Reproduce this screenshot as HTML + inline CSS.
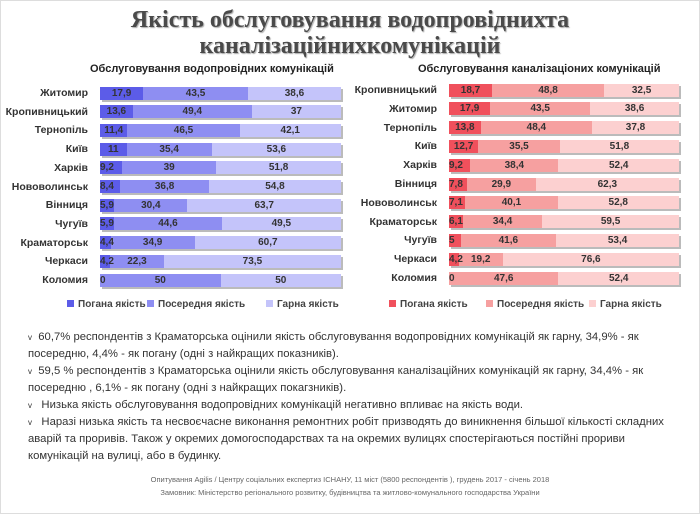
<!DOCTYPE html><html><head><meta charset="utf-8"><style>
body{margin:0;width:700px;height:514px;background:#fff;position:relative;overflow:hidden;font-family:"Liberation Sans","DejaVu Sans",sans-serif;}
.a{position:absolute;white-space:nowrap}
.t{font-family:"Liberation Serif",serif;font-weight:bold;font-size:24px;color:#4a4a4a;text-shadow:1px 1px 1px #aaa;width:700px;text-align:center;left:0}
.h{font-size:11px;font-weight:bold;color:#222}
.lb{font-size:10.5px;font-weight:bold;color:#333;text-align:right}
.bar{position:absolute;height:13px;display:flex;box-shadow:2px 2px 0 #bbb}
.bar div{height:13px;font-size:10px;font-weight:bold;color:#333;text-align:center;line-height:13px;white-space:nowrap;flex:none}
.bar div span{position:relative;z-index:2}
.bar div.s{text-align:left}
.b1{background:#5c5ce8}.b2{background:#8e8ef2}.b3{background:#c4c4fa}
.r1{background:#f0505c}.r2{background:#f6a0a0}.r3{background:#fcd0d0}
.lg{font-size:10px;font-weight:bold;color:#444}
.lg i{display:inline-block;width:7px;height:7px;margin-right:4px}
.tx{font-size:11.3px;color:#333;left:28px;line-height:17px}
.f{font-size:7.5px;color:#666;width:700px;text-align:center;left:0}
</style></head><body>
<div style="position:absolute;left:0;top:0;width:698px;height:512px;border:1px solid #ddd"></div>
<div class="a t" style="top:7px">Якість обслуговування водопровіднихта</div>
<div class="a t" style="top:33px">каналізаційнихкомунікацій</div>
<div class="a h" style="left:90px;top:63px">Обслуговування водопровідних комунікацій</div>
<div class="a h" style="left:418px;top:63px">Обслуговування каналізаціоних комунікацій</div>
<div id="L"></div><div id="R"></div>
<div class="a lg" style="left:67px;top:299px"><i style="background:#5c5ce8"></i>Погана якість</div>
<div class="a lg" style="left:147px;top:299px"><i style="background:#8e8ef2"></i>Посередня якість</div>
<div class="a lg" style="left:266px;top:299px"><i style="background:#c4c4fa"></i>Гарна якість</div>
<div class="a lg" style="left:389px;top:299px"><i style="background:#f0505c"></i>Погана якість</div>
<div class="a lg" style="left:486px;top:299px"><i style="background:#f6a0a0"></i>Посередня якість</div>
<div class="a lg" style="left:589px;top:299px"><i style="background:#fcd0d0"></i>Гарна якість</div>
<div class="a tx" style="top:329px;white-space:normal;width:650px"><span style="font-size:8px">v</span>&nbsp; 60,7% респондентів з Краматорська оцінили якість обслуговування водопровідних комунікацій як гарну, 34,9% - як посередню, 4,4% - як погану (одні з найкращих показників).<br><span style="font-size:8px">v</span>&nbsp; 59,5 % респондентів з Краматорська оцінили якість обслуговування каналізаційних комунікацій як гарну, 34,4% - як посередню , 6,1% - як погану (одні з найкращих покагзників).<br><span style="font-size:8px">v</span>&nbsp;&nbsp; Низька якість обслуговування водопровідних комунікацій негативно впливає на якість води.<br><span style="font-size:8px">v</span>&nbsp;&nbsp; Наразі низька якість та несвоєчасне виконання ремонтних робіт призводять до виникнення більшої кількості складних аварій та проривів. Також у окремих домогосподарствах та на окремих вулицях спостерігаються постійні прориви комунікацій на вулиці, або в будинку.</div>
<div class="a f" style="top:475px">Опитування Agilis / Центру соціальних експертиз ІСНАНУ, 11 міст (5800 респондентів ), грудень 2017 - січень 2018</div>
<div class="a f" style="top:488px">Замовник: Міністерство регіонального розвитку, будівництва та житлово-комунального господарства України</div>
<script>
function mk(id,data,x0,w,y0,dy,lx,c){var h='';data.forEach(function(d,i){var y=y0+i*dy;
h+='<div class="a lb" style="left:'+(lx-100)+'px;width:100px;top:'+(y-6)+'px">'+d[0]+'</div>';
h+='<div class="bar" style="left:'+x0+'px;top:'+(y-6.5)+'px;width:'+w+'px">';
for(var k=1;k<4;k++){var v=d[k];var pw=v*w/100;h+='<div class="'+c+k+(pw<24?' s':'')+'" style="width:'+pw+'px"><span>'+(v+'').replace('.',',')+'</span></div>';}
h+='</div>';});document.getElementById(id).innerHTML=h;}
mk('L',[["Житомир",17.9,43.5,38.6],["Кропивницький",13.6,49.4,37],["Тернопіль",11.4,46.5,42.1],["Київ",11,35.4,53.6],["Харків",9.2,39,51.8],["Нововолинськ",8.4,36.8,54.8],["Вінниця",5.9,30.4,63.7],["Чугуїв",5.9,44.6,49.5],["Краматорськ",4.4,34.9,60.7],["Черкаси",4.2,22.3,73.5],["Коломия",0,50,50]],100,241,93,18.7,88,'b');
mk('R',[["Кропивницький",18.7,48.8,32.5],["Житомир",17.9,43.5,38.6],["Тернопіль",13.8,48.4,37.8],["Київ",12.7,35.5,51.8],["Харків",9.2,38.4,52.4],["Вінниця",7.8,29.9,62.3],["Нововолинськ",7.1,40.1,52.8],["Краматорськ",6.1,34.4,59.5],["Чугуїв",5,41.6,53.4],["Черкаси",4.2,19.2,76.6],["Коломия",0,47.6,52.4]],449,230,90,18.8,437,'r');
</script>
</body></html>
